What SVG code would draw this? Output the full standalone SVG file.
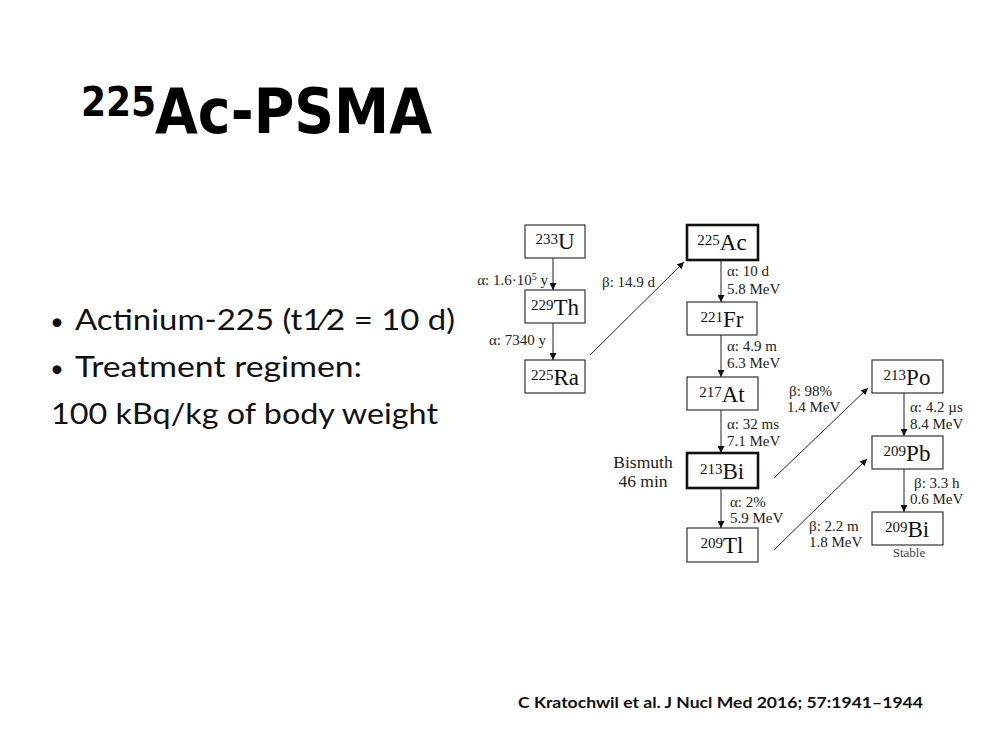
<svg xmlns="http://www.w3.org/2000/svg" width="1000" height="750" viewBox="0 0 1000 750">
<style>
.box{fill:#fff;stroke:#333;stroke-width:1.2}
.thick{fill:#fff;stroke:#111;stroke-width:2.6}
.nt{font-family:"Liberation Serif","Times New Roman",serif;font-size:23px;fill:#111;text-anchor:middle}
.sup{font-size:15px}
.lb{font-family:"Liberation Serif","Times New Roman",serif;font-size:15px;fill:#222}
.big{font-size:17.5px}
.small{font-size:13px;fill:#444}
.ln{stroke:#222;stroke-width:1;fill:none}
.body{font-family:Lato,"Open Sans",sans-serif;font-size:28px;fill:#111;font-feature-settings:"numr" 0,"dnom" 0,"frac" 0}
</style>
<defs>
<marker id="ah" viewBox="0 0 10 10" refX="10" refY="5" markerWidth="7" markerHeight="7" markerUnits="userSpaceOnUse" orient="auto">
<path d="M0,0 L10,5 L0,10 z" fill="#111"/>
</marker>
</defs>
<rect width="1000" height="750" fill="#fff"/>

<g id="title">
<text x="81" y="116" font-family="'DejaVu Sans Condensed','DejaVu Sans',sans-serif" font-weight="bold" font-size="40" fill="#000">225</text>
<text x="155" y="133" font-family="'DejaVu Sans Condensed','DejaVu Sans',sans-serif" font-weight="bold" font-size="62" fill="#000" textLength="277" lengthAdjust="spacingAndGlyphs">Ac-PSMA</text>
</g>

<g id="bullets">
<text class="body" x="50" y="330" style="font-size:24px">•</text>
<text class="body" x="75" y="330" textLength="380" lengthAdjust="spacingAndGlyphs">Actinium-225 (t1⁄2 = 10 d)</text>
<text class="body" x="50" y="377" style="font-size:24px">•</text>
<text class="body" x="75" y="377" textLength="287" lengthAdjust="spacingAndGlyphs">Treatment regimen:</text>
<text class="body" x="51" y="424" textLength="387" lengthAdjust="spacingAndGlyphs">100 kBq/kg of body weight</text>
</g>

<g id="citation">
<text x="518" y="708" font-family="Lato,'Open Sans',sans-serif" font-weight="bold" font-size="16" fill="#111" textLength="405" lengthAdjust="spacingAndGlyphs">C Kratochwil et al. J Nucl Med 2016; 57:1941–1944</text>
</g>

<g id="U233"><rect class="box" x="525" y="225" width="60" height="33"/><text class="nt" x="555" y="249"><tspan class="sup" dy="-5">233</tspan><tspan dy="5">U</tspan></text></g>
<g id="Th229"><rect class="box" x="525" y="290" width="60" height="33"/><text class="nt" x="555" y="315"><tspan class="sup" dy="-5">229</tspan><tspan dy="5">Th</tspan></text></g>
<g id="Ra225"><rect class="box" x="525" y="360" width="60" height="33"/><text class="nt" x="555" y="385"><tspan class="sup" dy="-5">225</tspan><tspan dy="5">Ra</tspan></text></g>
<g id="Ac225"><rect class="thick" x="687" y="225" width="71" height="35"/><text class="nt" x="722" y="250"><tspan class="sup" dy="-5">225</tspan><tspan dy="5">Ac</tspan></text></g>
<g id="Fr221"><rect class="box" x="687" y="302" width="70" height="33"/><text class="nt" x="722" y="327"><tspan class="sup" dy="-5">221</tspan><tspan dy="5">Fr</tspan></text></g>
<g id="At217"><rect class="box" x="687" y="377" width="71" height="33"/><text class="nt" x="722" y="402"><tspan class="sup" dy="-5">217</tspan><tspan dy="5">At</tspan></text></g>
<g id="Bi213"><rect class="thick" x="687" y="453" width="71" height="35"/><text class="nt" x="722" y="479"><tspan class="sup" dy="-5">213</tspan><tspan dy="5">Bi</tspan></text></g>
<g id="Tl209"><rect class="box" x="687" y="528" width="71" height="34"/><text class="nt" x="722" y="553"><tspan class="sup" dy="-5">209</tspan><tspan dy="5">Tl</tspan></text></g>
<g id="Po213"><rect class="box" x="872" y="360" width="71" height="33"/><text class="nt" x="907" y="385"><tspan class="sup" dy="-5">213</tspan><tspan dy="5">Po</tspan></text></g>
<g id="Pb209"><rect class="box" x="872" y="436" width="71" height="33"/><text class="nt" x="907" y="461"><tspan class="sup" dy="-5">209</tspan><tspan dy="5">Pb</tspan></text></g>
<g id="Bi209"><rect class="box" x="872" y="512" width="71" height="33"/><text class="nt" x="907" y="537"><tspan class="sup" dy="-5">209</tspan><tspan dy="5">Bi</tspan></text>
<text class="lb small" x="909" y="557" text-anchor="middle">Stable</text></g>

<g id="bismuth-note">
<text class="lb big" x="643" y="468" text-anchor="middle">Bismuth</text>
<text class="lb big" x="643" y="487" text-anchor="middle">46 min</text>
</g>

<g id="connectors">
<line class="ln" x1="553" y1="258" x2="553" y2="290" marker-end="url(#ah)"/>
<line class="ln" x1="553" y1="323" x2="553" y2="360" marker-end="url(#ah)"/>
<line class="ln" x1="590" y1="355" x2="684" y2="262" marker-end="url(#ah)"/>
<line class="ln" x1="721" y1="260" x2="721" y2="302" marker-end="url(#ah)"/>
<line class="ln" x1="721" y1="335" x2="721" y2="377" marker-end="url(#ah)"/>
<line class="ln" x1="721" y1="410" x2="721" y2="453" marker-end="url(#ah)"/>
<line class="ln" x1="721" y1="488" x2="721" y2="528" marker-end="url(#ah)"/>
<line class="ln" x1="774" y1="478" x2="868" y2="388" marker-end="url(#ah)"/>
<line class="ln" x1="774" y1="550" x2="867" y2="459" marker-end="url(#ah)"/>
<line class="ln" x1="904" y1="393" x2="904" y2="436" marker-end="url(#ah)"/>
<line class="ln" x1="904" y1="469" x2="904" y2="512" marker-end="url(#ah)"/>
</g>

<g id="labels">
<text class="lb" x="548" y="285" text-anchor="end">α: 1.6·10<tspan style="font-size:10px" dy="-5">5</tspan><tspan dy="5"> y</tspan></text>
<text class="lb" x="546" y="345" text-anchor="end">α: 7340 y</text>
<text class="lb" x="602" y="287">β: 14.9 d</text>
<text class="lb" x="727" y="276">α: 10 d</text>
<text class="lb" x="727" y="294">5.8 MeV</text>
<text class="lb" x="727" y="351">α: 4.9 m</text>
<text class="lb" x="727" y="368">6.3 MeV</text>
<text class="lb" x="727" y="429">α: 32 ms</text>
<text class="lb" x="727" y="446">7.1 MeV</text>
<text class="lb" x="730" y="507">α: 2%</text>
<text class="lb" x="730" y="523">5.9 MeV</text>
<text class="lb" x="789" y="396">β: 98%</text>
<text class="lb" x="787" y="412">1.4 MeV</text>
<text class="lb" x="809" y="531">β: 2.2 m</text>
<text class="lb" x="809" y="547">1.8 MeV</text>
<text class="lb" x="910" y="412">α: 4.2 µs</text>
<text class="lb" x="910" y="429">8.4 MeV</text>
<text class="lb" x="914" y="488">β: 3.3 h</text>
<text class="lb" x="910" y="504">0.6 MeV</text>
</g>
</svg>
